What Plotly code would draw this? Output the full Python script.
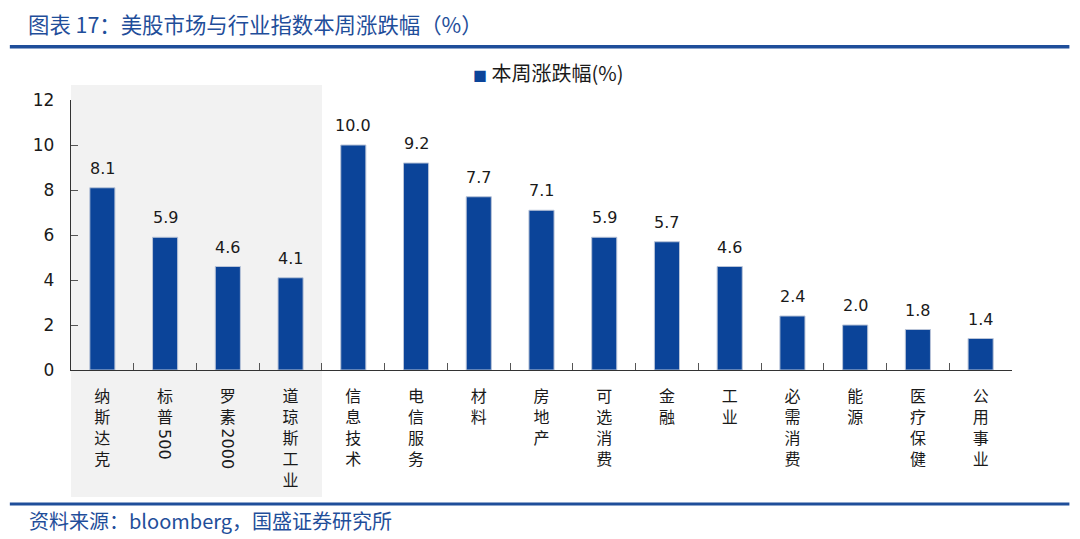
import plotly.graph_objects as go

# 本周涨跌幅 (%)
categories = ["纳斯达克", "标普500", "罗素2000", "道琼斯工业", "信息技术", "电信服务",
              "材料", "房地产", "可选消费", "金融", "工业", "必需消费", "能源",
              "医疗保健", "公用事业"]
values = [8.1, 5.9, 4.6, 4.1, 10.0, 9.2, 7.7, 7.1, 5.9, 5.7, 4.6, 2.4, 2.0, 1.8, 1.4]
y_ticks = [0, 2, 4, 6, 8, 10, 12]

BLUE = "#0B4499"
TITLE_BLUE = "#1F4E9A"
CJK = "Noto Sans CJK SC"
NUM = "DejaVu Sans"


def split_label(label):
    # chinese chars stacked vertically, digits kept apart (drawn rotated)
    han = "".join(c for c in label if not c.isdigit())
    digits = "".join(c for c in label if c.isdigit())
    return "<br>".join(han), digits


tick_text = []
digit_parts = []
for c in categories:
    t, d = split_label(c)
    tick_text.append(t)
    digit_parts.append(d)

fig = go.Figure()
fig.add_trace(go.Bar(
    x=categories, y=values,
    name="本周涨跌幅(%)",
    marker=dict(color=BLUE, line=dict(color="#B9C4D8", width=1)),
    width=0.4,
    showlegend=False,
))

# shaded block behind the market indices
fig.add_shape(type="rect", xref="x", yref="paper",
              x0=-0.5, x1=3.5, y0=-0.47, y1=1.056,
              fillcolor="#F2F2F2", line=dict(width=0), layer="below")

# value labels
for c, v in zip(categories, values):
    fig.add_annotation(x=c, y=v, text=f"{v:.1f}", showarrow=False,
                       yanchor="bottom", yshift=8,
                       font=dict(family=NUM, size=16, color="#1a1a1a"))

# rotated digits in the x labels
for c, d in zip(categories, digit_parts):
    if d:
        fig.add_annotation(x=c, y=-0.21, xref="x", yref="paper", text=d,
                           textangle=90, showarrow=False, yanchor="top",
                           font=dict(family=NUM, size=16, color="#1a1a1a"))

# legend drawn as a text line
fig.add_annotation(x=0.425, y=1.1, xref="paper", yref="paper", xanchor="left",
                   yanchor="middle", showarrow=False,
                   text=f"<span style='color:{BLUE};font-size:14px'>■</span> 本周涨跌幅(%)",
                   font=dict(family=CJK, size=20, color="#1a1a1a"))

# title, rules and source
fig.add_annotation(x=-0.048, y=1.285, xref="paper", yref="paper", xanchor="left",
                   yanchor="middle", showarrow=False,
                   text="图表 17：美股市场与行业指数本周涨跌幅（%）",
                   font=dict(family=CJK, size=21.4, color=TITLE_BLUE))
fig.add_shape(type="line", xref="paper", yref="paper", x0=-0.065, x1=1.061,
              y0=1.197, y1=1.197, line=dict(color=TITLE_BLUE, width=3.5))
fig.add_shape(type="line", xref="paper", yref="paper", x0=-0.065, x1=1.061,
              y0=-0.496, y1=-0.496, line=dict(color=TITLE_BLUE, width=3))
fig.add_annotation(x=-0.047, y=-0.556, xref="paper", yref="paper", xanchor="left",
                   yanchor="middle", showarrow=False,
                   text="资料来源：bloomberg，国盛证券研究所",
                   font=dict(family=CJK, size=20, color=TITLE_BLUE))

fig.update_layout(
    width=1080, height=539,
    margin=dict(l=71, r=68, t=100, b=169),
    plot_bgcolor="rgba(0,0,0,0)",
    paper_bgcolor="white",
    showlegend=False,
    xaxis=dict(
        tickmode="array", tickvals=categories, ticktext=tick_text,
        tickson="boundaries", ticks="inside", ticklen=7, tickcolor="#555",
        showline=True, linecolor="#333", linewidth=1.3,
        showgrid=False, range=[-0.5, 14.5], automargin=False,
        ticklabelstandoff=12,
        tickfont=dict(family=CJK, size=16, color="#1a1a1a"),
    ),
    yaxis=dict(
        range=[0, 12], tickvals=y_ticks, ticks="inside", ticklen=7,
        tickcolor="#555", showline=True, linecolor="#333", linewidth=1.3,
        showgrid=False, zeroline=False, automargin=False,
        ticklabelstandoff=12,
        tickfont=dict(family=NUM, size=17, color="#1a1a1a"),
    ),
)

# page body has a default margin; drop it so the chart sits at 0,0
fig.write_html("out.html", config={"displayModeBar": False},
               post_script="document.body.style.margin='0';")
